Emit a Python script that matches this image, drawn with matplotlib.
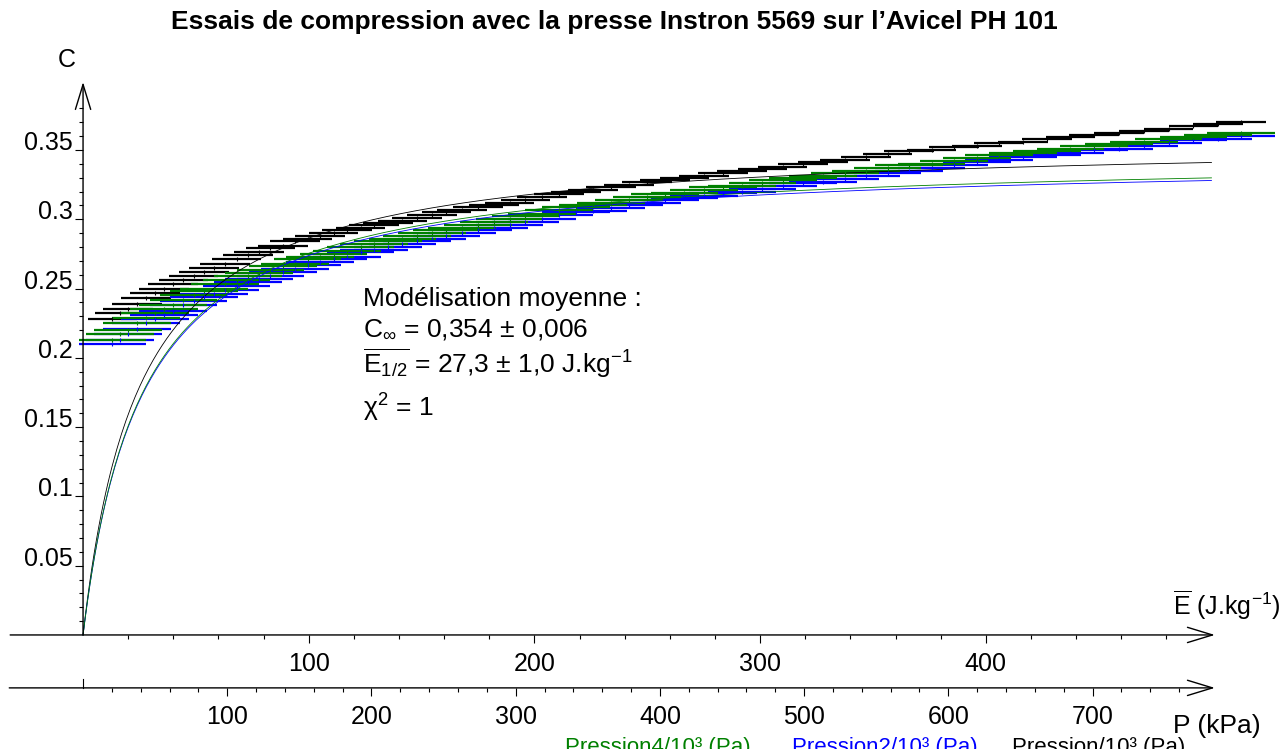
import numpy as np
import matplotlib
matplotlib.use('Agg')
import matplotlib.pyplot as plt

plt.rcParams['font.family'] = ['Liberation Sans', 'DejaVu Sans']
plt.rcParams['mathtext.fontset'] = 'custom'
plt.rcParams['mathtext.rm'] = 'Liberation Sans'
plt.rcParams['mathtext.it'] = 'Liberation Sans:italic'
plt.rcParams['mathtext.bf'] = 'Liberation Sans:bold'

# energie massique moyenne (J/kg) des points de mesure
energie = [13, 16.5, 20, 24, 28, 32, 36, 40, 44.5, 49, 53.5, 58, 63, 68, 73, 78,
           83, 88.5, 94, 99.5, 105, 111, 117, 123, 129, 135, 141.5, 148, 154.5,
           161, 168, 175, 182, 189, 196, 203.5, 211, 218.5, 226, 234, 242, 250,
           258, 266.5, 275, 283.5, 292, 301, 310, 319, 328, 337.5, 347, 356.5,
           366, 376, 386, 396, 406, 416.5, 427, 437.5, 448, 459, 470, 481, 492,
           503, 513]

# compacite C mesuree pour les trois essais
c_pression = [0.228, 0.232, 0.235, 0.239, 0.243, 0.247, 0.250, 0.253, 0.256, 0.259,
              0.262, 0.265, 0.268, 0.271, 0.274, 0.276, 0.279, 0.281, 0.284, 0.286,
              0.288, 0.290, 0.292, 0.294, 0.296, 0.297, 0.299, 0.301, 0.303, 0.305,
              0.307, 0.309, 0.310, 0.312, 0.314, 0.316, 0.318, 0.320, 0.321, 0.323,
              0.325, 0.327, 0.328, 0.330, 0.331, 0.333, 0.335, 0.336, 0.338, 0.340,
              0.341, 0.343, 0.345, 0.347, 0.349, 0.350, 0.352, 0.353, 0.355, 0.356,
              0.358, 0.359, 0.361, 0.362, 0.364, 0.365, 0.367, 0.369, 0.370]
c_pression2 = [0.210, 0.213, 0.217, 0.221, 0.225, 0.228, 0.231, 0.234, 0.238, 0.241,
               0.244, 0.246, 0.249, 0.252, 0.255, 0.257, 0.259, 0.262, 0.264, 0.267,
               0.269, 0.271, 0.273, 0.276, 0.278, 0.280, 0.282, 0.284, 0.286, 0.288,
               0.290, 0.292, 0.294, 0.296, 0.298, 0.300, 0.303, 0.305, 0.306, 0.308,
               0.310, 0.312, 0.314, 0.315, 0.317, 0.319, 0.320, 0.322, 0.324, 0.326,
               0.327, 0.329, 0.331, 0.333, 0.335, 0.337, 0.339, 0.341, 0.343, 0.345,
               0.346, 0.348, 0.350, 0.351, 0.353, 0.355, 0.357, 0.358, 0.360]
c_pression4 = [0.213, 0.217, 0.220, 0.225, 0.229, 0.232, 0.235, 0.238, 0.242, 0.245,
               0.248, 0.250, 0.253, 0.256, 0.259, 0.261, 0.263, 0.266, 0.268, 0.271,
               0.273, 0.275, 0.277, 0.280, 0.282, 0.284, 0.286, 0.288, 0.290, 0.292,
               0.294, 0.296, 0.298, 0.300, 0.302, 0.304, 0.307, 0.309, 0.310, 0.312,
               0.314, 0.316, 0.318, 0.319, 0.321, 0.323, 0.324, 0.326, 0.328, 0.330,
               0.331, 0.333, 0.335, 0.337, 0.339, 0.340, 0.342, 0.344, 0.346, 0.348,
               0.349, 0.351, 0.353, 0.354, 0.356, 0.358, 0.359, 0.361, 0.362]

# incertitude sur E (J/kg)
err_pression = 11
err_pression2 = 15
err_pression4 = 15

# modeles C = Cinf * E / (E + E1/2) : noir, bleu, vert
c_inf = [0.358, 0.345, 0.347]
e_demi = [25, 26, 26]
couleurs = ['black', '#0000ff', '#008000']

y_ticks = [0.05, 0.1, 0.15, 0.2, 0.25, 0.3, 0.35]
y_labels = ['0.05', '0.1', '0.15', '0.2', '0.25', '0.3', '0.35']
e_ticks = [100, 200, 300, 400]
p_ticks = [100, 200, 300, 400, 500, 600, 700]
ratio_e_p = 0.639   # E (J/kg) pour 1 kPa


def px(x, y):
    return x / 1283, 1 - y / 749


fig = plt.figure(figsize=(12.83, 7.49), dpi=100)
ax = fig.add_axes([0, 0, 1, 1])
ax.set_xlim(-36.8, 531.7)
ax.set_ylim(-0.0823, 0.4582)
ax.patch.set_visible(False)
for s in ax.spines.values():
    s.set_visible(False)
ax.spines['bottom'].set_position(('data', 0))
ax.spines['left'].set_position(('data', 0))

# donnees
for c, err, col in [(c_pression, err_pression, couleurs[0]),
                    (c_pression2, err_pression2, couleurs[1]),
                    (c_pression4, err_pression4, couleurs[2])]:
    ax.errorbar(energie, c, xerr=err, fmt='|', color=col, ecolor=col, ms=3,
                mew=0.8, elinewidth=1.6, capsize=0)

# modeles
e_mod = np.linspace(0, 500, 500)
for ci, ed, col in zip(c_inf, e_demi, couleurs):
    ax.plot(e_mod, ci * e_mod / (e_mod + ed), color=col, lw=0.6)

# axes a la Maple
fleche = dict(arrowstyle='->,head_length=1.8,head_width=0.55', lw=1,
              color='black', shrinkA=0, shrinkB=0)
ax.annotate('', xy=(501.5, 0), xytext=(-32.3, 0), arrowprops=fleche)
ax.annotate('', xy=(0, 0.399), xytext=(0, 0), arrowprops=fleche)
ax.annotate('', xy=(501.5, -0.0382), xytext=(-32.7, -0.0382), arrowprops=fleche)
ax.plot([0, 0], [-0.0382, -0.0317], color='black', lw=0.8)

ax.set_xticks(e_ticks)
ax.set_xticklabels([str(v) for v in e_ticks])
ax.set_xticks(np.arange(20, 500, 20), minor=True)
ax.set_yticks(y_ticks)
ax.set_yticklabels(y_labels)
ax.set_yticks(np.arange(0.01, 0.385, 0.01), minor=True)
ax.tick_params(axis='both', which='major', direction='out', length=5.5,
               width=0.8, labelsize=18)
ax.tick_params(axis='both', which='minor', direction='out', length=2.9, width=0.8)
ax.tick_params(axis='x', which='major', pad=7)
ax.tick_params(axis='y', which='major', pad=2)
for lab in ax.get_yticklabels():
    lab.set_verticalalignment('baseline')

sec = ax.secondary_xaxis(0.0814, functions=(lambda e: e / ratio_e_p,
                                            lambda p: p * ratio_e_p))
for s in sec.spines.values():
    s.set_visible(False)
sec.set_xticks(p_ticks)
sec.set_xticklabels([str(v) for v in p_ticks])
sec.set_xticks(np.arange(20, 780, 20), minor=True)
sec.tick_params(axis='x', which='major', direction='out', length=5.5,
                width=0.8, labelsize=18, pad=7)
sec.tick_params(axis='x', which='minor', direction='out', length=2.9, width=0.8)

# textes
fig.text(*px(614, 22), 'Essais de compression avec la presse Instron 5569 sur l’Avicel PH 101',
         ha='center', va='center', fontsize=19, fontweight='bold')
fig.text(*px(67, 60), 'C', ha='center', va='center', fontsize=18)
fig.text(*px(1173, 615), r'$\overline{\mathrm{E}}$ (J.kg$^{-1}$)', ha='left',
         va='baseline', fontsize=18)
fig.text(*px(1173, 733), 'P (kPa)', ha='left', va='baseline', fontsize=19)

fig.text(*px(363, 306), 'Modélisation moyenne :', fontsize=19, va='baseline')
fig.text(*px(363, 336), r'C$_{\infty}$ = 0,354 ± 0,006', fontsize=19, va='baseline')
fig.text(*px(363, 373), r'$\overline{\mathrm{E}_{1/2}}$ = 27,3 ± 1,0 J.kg$^{-1}$',
         fontsize=19, va='baseline')
fig.text(*px(363, 417), r'χ$^{2}$ = 1', fontsize=19, va='baseline')

fig.text(*px(565, 737), 'Pression4/10³ (Pa)', color='#008000', fontsize=16, va='top')
fig.text(*px(792, 737), 'Pression2/10³ (Pa)', color='#0000ff', fontsize=16, va='top')
fig.text(*px(1012, 737), 'Pression/10³ (Pa)', color='black', fontsize=16, va='top')

fig.savefig('out.png', dpi=100)
